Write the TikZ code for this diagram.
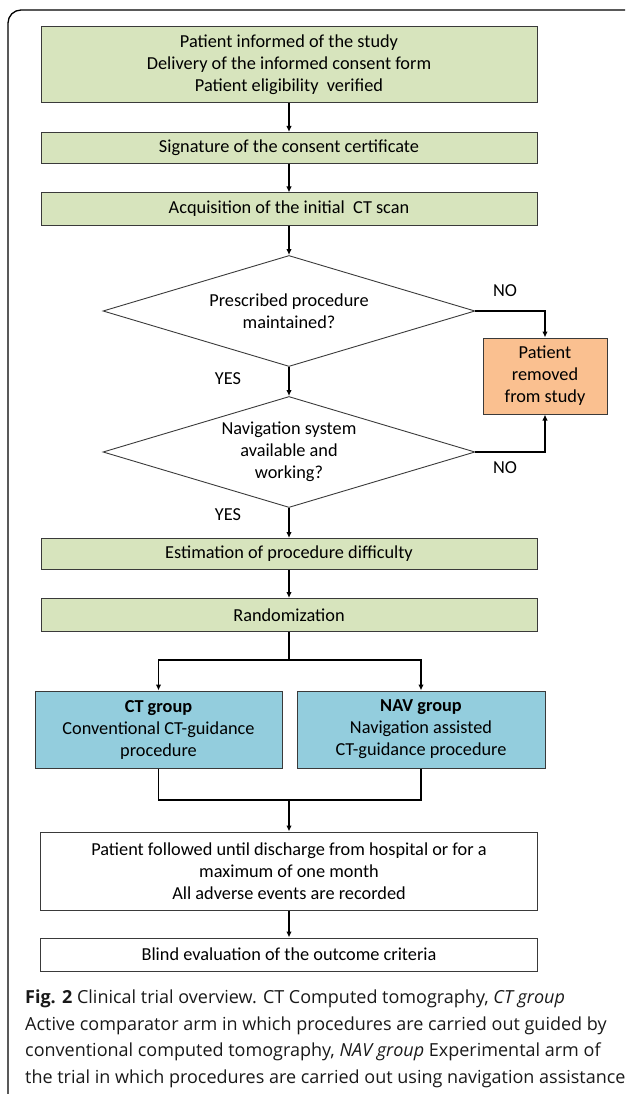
\documentclass[tikz,border=0pt]{standalone}
\usepackage{fontspec}
\setmainfont{Carlito}
\newfontfamily\capfont{Open Sans}
\usetikzlibrary{shapes.geometric,arrows.meta}
\definecolor{boxgreen}{HTML}{D7E4BD}
\definecolor{boxorange}{HTML}{FAC090}
\definecolor{boxblue}{HTML}{93CDDD}
\definecolor{edgegray}{HTML}{3A3A3A}
\begin{document}
\begin{tikzpicture}[x=1pt,y=-1pt,
  every node/.style={font=\fontsize{18.3}{22}\selectfont},
  base/.style={draw=edgegray, line width=1pt, align=center, inner sep=0pt},
  greenbox/.style={base, fill=boxgreen, minimum width=496pt},
  whitebox/.style={base, fill=white, minimum width=497pt},
  orangebox/.style={base, fill=boxorange, minimum width=124pt, minimum height=76pt},
  bluebox/.style={base, fill=boxblue, minimum height=77pt},
  decision/.style={diamond, draw=edgegray, line width=0.9pt, align=center, inner sep=0pt, minimum width=372pt, minimum height=111pt, aspect=3.35},
  conn/.style={line width=1.4pt, -{Latex[length=6pt,width=5.5pt]}},
  plain/.style={line width=1.4pt},
  lbl/.style={inner sep=0pt}
]
\useasboundingbox (0,0) rectangle (625,1094);
\clip (0,0) rectangle (625,1094);
% outer frame
\draw[line width=1.3pt, rounded corners=13pt] (8,1110) -- (8,10) -- (650,10);

\node[greenbox, minimum height=76pt] (b1) at (289,65) {Patient informed of the study\\Delivery of the informed consent form\\Patient eligibility\ \ verified};
\node[greenbox, minimum height=31pt] (b2) at (289,148) {Signature of the consent certificate};
\node[greenbox, minimum height=32pt] (b3) at (289,209) {Acquisition of the initial\ \ CT scan};
\node[decision] (d1) at (289,311) {Prescribed procedure\\maintained?};
\node[orangebox] (rm) at (545,376) {Patient\\removed\\from study};
\node[decision] (d2) at (289,452) {Navigation system\\available and\\working?};
\node[greenbox, minimum height=31pt] (b4) at (289,554) {Estimation of procedure difficulty};
\node[greenbox, minimum height=33pt] (b5) at (289,615) {Randomization};
\node[bluebox, minimum width=247pt] (ct) at (158.5,729.5) {\textbf{CT group}\\Conventional CT-guidance\\procedure};
\node[bluebox, minimum width=248pt] (nav) at (421,729.5) {\textbf{NAV group}\\Navigation assisted\\CT-guidance procedure};
\node[whitebox, minimum height=78pt] (b6) at (289,871) {Patient followed until discharge from hospital or for a\\maximum of one month\\All adverse events are recorded};
\node[whitebox, minimum height=33pt] (b7) at (289,954.5) {Blind evaluation of the outcome criteria};

\coordinate (split) at (289,660);
\coordinate (join) at (289,800);

\draw[conn] (b1) -- (b2);
\draw[conn] (b2) -- (b3);
\draw[conn] (b3) -- (d1);
\draw[conn] (d1) -- (d2);
\draw[conn] (d2) -- (b4);
\draw[conn] (b4) -- (b5);
\draw[conn] (d1.east) -| (rm.north);
\draw[conn] (d2.east) -| (rm.south);
\draw[plain] (b5.south) -- (split);
\draw[conn] (split) -| (ct.north);
\draw[conn] (split) -| (nav.north);
\draw[plain] (ct.south) |- (join);
\draw[plain] (nav.south) |- (join);
\draw[conn] (join) -- (b6.north);
\draw[conn] (b6) -- (b7);

\node[lbl] (no1) at (505,291) {NO};
\node[lbl] (no2) at (505,468) {NO};
\node[lbl] (yes1) at (228,379) {YES};
\node[lbl] (yes2) at (228,515) {YES};

\node[anchor=base west, inner sep=0pt, align=left, text=black!90,
  font=\capfont\fontsize{18}{26.5}\selectfont] (cap) at (25,1083)
  {\textbf{Fig. 2} Clinical trial overview. CT Computed tomography, \textit{CT group}\\
   Active comparator arm in which procedures are carried out guided by\\
   conventional computed tomography, \textit{NAV group} Experimental arm of\\
   the trial in which procedures are carried out using navigation assistance};
\end{tikzpicture}
\end{document}
